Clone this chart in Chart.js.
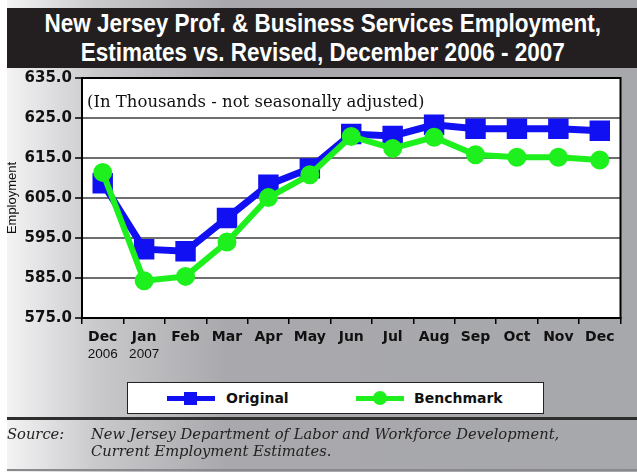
<!DOCTYPE html>
<html>
<head>
<meta charset="utf-8">
<script src="https://cdn.jsdelivr.net/npm/chart.js@4"></script>
<style>
  html, body { margin: 0; padding: 0; background: #fff; }
  #page { position: relative; width: 637px; height: 472px; overflow: hidden; }
  #bg { position: absolute; left: 7px; top: 0; width: 630px; height: 472px;
        background: linear-gradient(to right, #f3f3f4 0px, #c9c9cc 90px, #a9a9ad 220px, #a7a8ac 630px); }
  #title { position: absolute; left: 7px; top: 8px; width: 630px; height: 60px; background: #231f20;
           color: #fff; font-family: 'Liberation Sans', Arial, sans-serif; font-weight: bold;
           font-size: 25px; text-align: center; }
  #title div { position: absolute; left: 0; width: 630px; height: 29px; line-height: 29px;
               transform: scaleX(0.9); transform-origin: 322px 50%; white-space: nowrap; }
  #chart { position: absolute; left: 0; top: 0; }
  #legend { position: absolute; left: 127px; top: 382px; width: 415px; height: 30px; background: #fff;
            border: 1.5px solid #222; }
  .item { position: absolute; top: 0; height: 30px; line-height: 30px;
          font-family: 'DejaVu Sans', sans-serif; font-weight: bold; font-size: 14px; color: #111; }
  .ln { position: absolute; top: 13px; width: 48px; height: 5px; }
  .mk { position: absolute; }
  #sep { position: absolute; left: 7px; top: 417px; width: 630px; height: 3px; background: #2e2e2e; }
  #src { position: absolute; left: 7px; top: 425px; font-family: 'DejaVu Serif', serif; font-style: italic;
         font-size: 14.7px; line-height: 17px; color: #222; }
  #src span { position: absolute; white-space: nowrap; }
  #bot { position: absolute; left: 7px; top: 469px; width: 630px; height: 2px; background: #8a8a8e; }
</style>
</head>
<body>
<div id="page">
  <div id="bg"></div>
  <div id="title">
    <div style="top:1px;">New Jersey Prof. &amp; Business Services Employment,</div>
    <div style="top:30px;">Estimates vs. Revised, December 2006 - 2007</div>
  </div>
  <canvas id="chart" width="637" height="472"></canvas>
  <div id="legend">
    <div class="item" style="left:39px;">
      <div class="ln" style="left:0;background:#1010f2;"></div>
      <div class="mk" style="left:17px;top:9px;width:13px;height:13px;background:#1010f2;"></div>
      <span style="position:absolute;left:59px;">Original</span>
    </div>
    <div class="item" style="left:228px;">
      <div class="ln" style="left:0;background:#1ef01e;"></div>
      <div class="mk" style="left:17px;top:8px;width:14px;height:14px;border-radius:50%;background:#1ef01e;"></div>
      <span style="position:absolute;left:58px;">Benchmark</span>
    </div>
  </div>
  <div id="sep"></div>
  <div id="src">
    <span style="left:0;top:0;">Source:</span>
    <span style="left:84px;top:0;">New Jersey Department of Labor and Workforce Development,</span>
    <span style="left:84px;top:17px;">Current Employment Estimates.</span>
  </div>
  <div id="bot"></div>
</div>
<script>
const months = ['Dec', 'Jan', 'Feb', 'Mar', 'Apr', 'May', 'Jun', 'Jul', 'Aug', 'Sep', 'Oct', 'Nov', 'Dec'];
const years = ['2006', '2007'];
const original = [608.7, 592.2, 591.7, 600.0, 608.3, 612.4, 621.0, 620.5, 623.3, 622.3, 622.3, 622.3, 621.8];
const benchmark = [611.4, 584.3, 585.4, 594.0, 605.1, 610.8, 620.4, 617.4, 620.2, 615.8, 615.2, 615.2, 614.5];
const yMin = 575, yMax = 635, yStep = 10;
const subtitle = '(In Thousands - not seasonally adjusted)';

// white plot area, black frame, note text and year labels
const plotDecor = {
  id: 'plotDecor',
  beforeDraw(chart) {
    const { ctx, chartArea: a } = chart;
    ctx.save();
    ctx.fillStyle = '#fff';
    ctx.fillRect(a.left, a.top, a.right - a.left, a.bottom - a.top);
    ctx.restore();
  },
  beforeDatasetsDraw(chart) {
    const { ctx, chartArea: a } = chart;
    ctx.save();
    ctx.font = '16.5px "DejaVu Serif", serif';
    ctx.fillStyle = '#111';
    ctx.textBaseline = 'alphabetic';
    ctx.fillText(subtitle, a.left + 5, a.top + 29);
    ctx.restore();
  },
  afterDraw(chart) {
    const { ctx, chartArea: a } = chart;
    const x = chart.scales.x;
    ctx.save();
    ctx.strokeStyle = '#000';
    ctx.lineWidth = 2;
    ctx.strokeRect(a.left, a.top, a.right - a.left, a.bottom - a.top);
    ctx.font = '13.5px "Liberation Sans", Arial, sans-serif';
    ctx.fillStyle = '#111';
    ctx.textAlign = 'center';
    ctx.textBaseline = 'middle';
    years.forEach((y, i) => ctx.fillText(y, x.getPixelForValue(i), a.bottom + 36));
    ctx.restore();
  }
};

new Chart(document.getElementById('chart'), {
  type: 'line',
  data: {
    labels: months,
    datasets: [
      {
        label: 'Original',
        data: original,
        borderColor: '#1010f2', backgroundColor: '#1010f2',
        borderWidth: 7, pointStyle: 'rect', pointRadius: 9.5, pointHoverRadius: 9.5,
        tension: 0, order: 1,
      },
      {
        label: 'Benchmark',
        data: benchmark,
        borderColor: '#1ef01e', backgroundColor: '#1ef01e',
        borderWidth: 6, pointStyle: 'circle', pointRadius: 6.5, pointHoverRadius: 6.5,
        tension: 0, order: 0,
      }
    ]
  },
  options: {
    responsive: false,
    animation: false,
    layout: { padding: { top: 78, right: 7, bottom: 124, left: 0 } },
    plugins: { legend: { display: false }, tooltip: { enabled: false } },
    scales: {
      x: {
        offset: true,
        afterFit: (s) => { s.height = 30; },
        grid: { offset: true, drawOnChartArea: false, drawTicks: true, tickLength: 6, tickColor: '#000', lineWidth: 1.5 },
        border: { color: '#000', width: 2 },
        ticks: { color: '#111', padding: 5, maxRotation: 0, autoSkip: false,
                 font: { family: 'DejaVu Sans', weight: 'bold', size: 14 } }
      },
      y: {
        min: yMin, max: yMax,
        afterFit: (s) => { s.width = 82; },
        grid: { color: '#6e6e6e', lineWidth: 2, tickColor: '#000', tickLength: 7, tickWidth: 1.5 },
        border: { color: '#000', width: 2 },
        ticks: { stepSize: yStep, color: '#111', padding: 3,
                 font: { family: 'DejaVu Sans', weight: 'bold', size: 15 },
                 callback: (v) => v.toFixed(1) },
        title: { display: true, text: 'Employment', color: '#111', padding: { top: 5, bottom: 0 },
                 font: { family: 'Liberation Sans', size: 13 } }
      }
    }
  },
  plugins: [plotDecor]
});
</script>
</body>
</html>
